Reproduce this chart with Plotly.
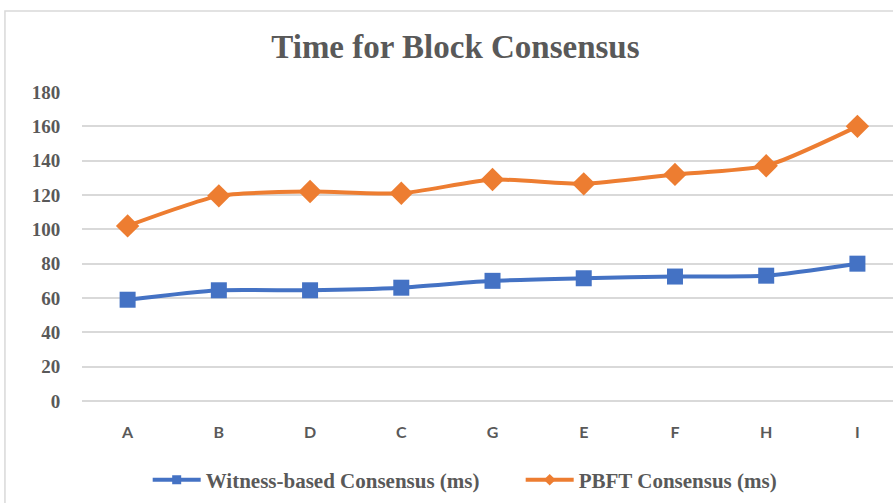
import plotly.graph_objects as go

categories = ["A", "B", "D", "C", "G", "E", "F", "H", "I"]
witness_ms = [59, 64.5, 64.5, 66, 70, 71.5, 72.5, 73, 80]
pbft_ms = [102, 119.5, 122, 121, 129, 126.5, 132, 137, 160]
y_ticks = [0, 20, 40, 60, 80, 100, 120, 140, 160, 180]

GRAY = "#595959"
SERIF = "Liberation Serif"
SANS = "Lato"
BLUE = "#4472C4"
ORANGE = "#ED7D31"

fig = go.Figure()
series = [
    ("Witness-based Consensus (ms)", witness_ms, BLUE, "square", 16),
    ("PBFT Consensus (ms)", pbft_ms, ORANGE, "diamond", 18),
]
for name, values, color, symbol, size in series:
    fig.add_trace(go.Scatter(
        x=categories, y=values, name=name, showlegend=False,
        mode="lines+markers",
        line=dict(color=color, width=4, shape="spline", smoothing=0.6),
        marker=dict(symbol=symbol, size=size, color=color), cliponaxis=False,
    ))
    # legend entry with a smaller marker
    fig.add_trace(go.Scatter(
        x=[None], y=[None], name=name, mode="lines+markers",
        line=dict(color=color, width=4),
        marker=dict(symbol=symbol, size=9, color=color),
    ))

fig.update_layout(
    width=893, height=503,
    margin=dict(l=82, r=0, t=92, b=102, autoexpand=False),
    paper_bgcolor="white", plot_bgcolor="white",
    title=dict(text="Time for Block Consensus", x=0.51, xanchor="center",
               y=0.907, yanchor="middle",
               font=dict(family=SERIF, size=33, color=GRAY, weight="bold")),
    font=dict(family=SERIF, color=GRAY),
    showlegend=True,
    legend=dict(orientation="h", x=0.081, xanchor="left", y=-0.256, yanchor="middle",
                font=dict(family=SERIF, size=21, color=GRAY, weight="bold"),
                itemwidth=48, entrywidth=310, entrywidthmode="pixels", tracegroupgap=0,
                bgcolor="rgba(0,0,0,0)"),
    shapes=[dict(type="rect", xref="paper", yref="paper",
                 x0=-0.095, x1=1.2, y0=-0.5, y1=1.262,
                 line=dict(color="#D9D9D9", width=1.5), fillcolor="rgba(0,0,0,0)", layer="below")],
)
fig.update_xaxes(
    type="category", range=[-0.5, 8.39], showgrid=False, showline=False, zeroline=False,
    ticks="outside", ticklen=17, tickcolor="rgba(0,0,0,0)",
    tickfont=dict(family=SANS, size=16, color=GRAY, weight="bold"),
)
fig.update_yaxes(
    range=[0, 180], tickvals=y_ticks, showgrid=True, gridcolor="#D9D9D9", gridwidth=1.5,
    zeroline=True, zerolinecolor="#D9D9D9", zerolinewidth=1.5, showline=False,
    ticks="outside", ticklen=17, tickcolor="rgba(0,0,0,0)",
    tickfont=dict(family=SERIF, size=19, color=GRAY, weight="bold"),
)

fig.write_html("out.html")
